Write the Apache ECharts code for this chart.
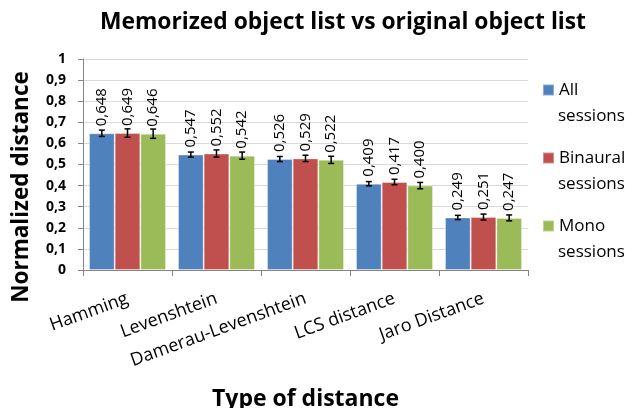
<!DOCTYPE html>
<html>
<head>
<meta charset="utf-8">
<script src="https://cdn.jsdelivr.net/npm/echarts@6/dist/echarts.min.js"></script>
<style>
  html, body { margin: 0; padding: 0; background: #fff; }
  #chart { width: 632px; height: 408px; }
</style>
</head>
<body>
<div id="chart"></div>
<script>
const categories = ["Hamming", "Levenshtein", "Damerau-Levenshtein", "LCS distance", "Jaro Distance"];
const seriesNames = ["All sessions", "Binaural sessions", "Mono sessions"];
const allValues = [0.648, 0.547, 0.526, 0.409, 0.249];
const binauralValues = [0.649, 0.552, 0.529, 0.417, 0.251];
const monoValues = [0.646, 0.542, 0.522, 0.400, 0.247];
const allErrors = [0.015, 0.012, 0.012, 0.010, 0.010];
const binauralErrors = [0.020, 0.017, 0.015, 0.013, 0.014];
const monoErrors = [0.022, 0.017, 0.017, 0.015, 0.014];
const colors = ["#4F81BD", "#C0504D", "#9BBB59"];

const values = [allValues, binauralValues, monoValues];
const errors = [allErrors, binauralErrors, monoErrors];
const catGap = 0.135;
const font = "'Open Sans', sans-serif";

// legend layout: first word via the legend, second word underneath
const legendTop = 77;
const legendGap = 42;
const legendLine = 26;

const chart = echarts.init(document.getElementById("chart"));

const comma = (v) => String(v).replace(".", ",");

function errorSeries(k) {
    return {
        type: "custom",
        name: seriesNames[k] + " err",
        z: 10,
        silent: true,
        data: values[k].map((v, i) => [i, v, errors[k][i]]),
        renderItem: (params, api) => {
            const i = api.value(0);
            const v = api.value(1);
            const e = api.value(2);
            const band = api.size([1, 0])[0];
            const barW = band * (1 - catGap) / 3;
            const center = api.coord([i, v])[0];
            const x = center + (k - 1) * barW;
            const top = api.coord([i, v + e])[1];
            const bottom = api.coord([i, v - e])[1];
            const cap = 3;
            const style = { stroke: "#000", lineWidth: 1.5 };
            return {
                type: "group",
                children: [
                    { type: "line", shape: { x1: x, y1: top, x2: x, y2: bottom }, style },
                    { type: "line", shape: { x1: x - cap, y1: top, x2: x + cap, y2: top }, style },
                    { type: "line", shape: { x1: x - cap, y1: bottom, x2: x + cap, y2: bottom }, style }
                ]
            };
        }
    };
}

const barSeries = values.map((vals, k) => ({
    type: "bar",
    name: seriesNames[k],
    data: vals,
    barGap: 0,
    barCategoryGap: catGap * 100 + "%",
    itemStyle: { color: colors[k], borderColor: "rgba(255,255,255,0.35)", borderWidth: 1 },
    label: {
        show: true,
        position: "top",
        rotate: 90,
        align: "left",
        verticalAlign: "middle",
        distance: 7,
        fontFamily: font,
        fontSize: 15,
        color: "#000",
        formatter: (p) => comma(p.value.toFixed(3))
    }
}));

const secondWords = seriesNames.map((n, k) => ({
    type: "text",
    x: 558,
    y: legendTop + 13 + k * (legendLine + legendGap) + legendLine,
    style: {
        text: n.split(" ")[1],
        fontFamily: font,
        fontSize: 17,
        fill: "#000",
        align: "left",
        verticalAlign: "middle"
    }
}));

chart.setOption({
    animation: false,
    textStyle: { fontFamily: font },
    title: {
        text: "Memorized object list vs original object list",
        left: 338,
        textAlign: "center",
        top: 6,
        textStyle: { fontFamily: font, fontSize: 22.8, fontWeight: "bold", color: "#000" }
    },
    legend: {
        orient: "vertical",
        left: 542,
        top: legendTop,
        padding: 0,
        icon: "rect",
        itemWidth: 11,
        itemHeight: 11,
        itemGap: legendGap,
        data: seriesNames,
        formatter: (n) => n.split(" ")[0],
        textStyle: { fontFamily: font, fontSize: 17, lineHeight: legendLine, color: "#000" }
    },
    grid: { left: 83, right: 104, top: 59, bottom: 138, outerBoundsMode: "none" },
    xAxis: {
        type: "category",
        data: categories,
        name: "Type of distance",
        nameLocation: "middle",
        nameGap: 118,
        nameTextStyle: { fontFamily: font, fontSize: 23, fontWeight: "bold", color: "#000" },
        axisLine: { lineStyle: { color: "#868686" } },
        axisTick: { show: true, length: 6, lineStyle: { color: "#868686" } },
        axisLabel: { rotate: 20, fontFamily: font, fontSize: 18, color: "#000", margin: 28, interval: 0 }
    },
    yAxis: {
        type: "value",
        min: 0,
        max: 1,
        interval: 0.1,
        axisLine: { show: true, lineStyle: { color: "#868686" } },
        axisTick: { show: true, length: 5, lineStyle: { color: "#868686" } },
        splitLine: { lineStyle: { color: "#d9d9d9" } },
        axisLabel: {
            fontFamily: font, fontSize: 14, fontWeight: "bold", color: "#000", margin: 17,
            formatter: (v) => comma(Math.round(v * 10) / 10)
        }
    },
    graphic: [{
        type: "text",
        x: 22,
        y: 187,
        rotation: Math.PI / 2,
        style: {
            text: "Normalized distance",
            fontFamily: font,
            fontSize: 22.5,
            fontWeight: "bold",
            fill: "#000",
            align: "center",
            verticalAlign: "middle"
        }
    }, ...secondWords],
    series: [...barSeries, ...values.map((v, k) => errorSeries(k))]
});
</script>
</body>
</html>
